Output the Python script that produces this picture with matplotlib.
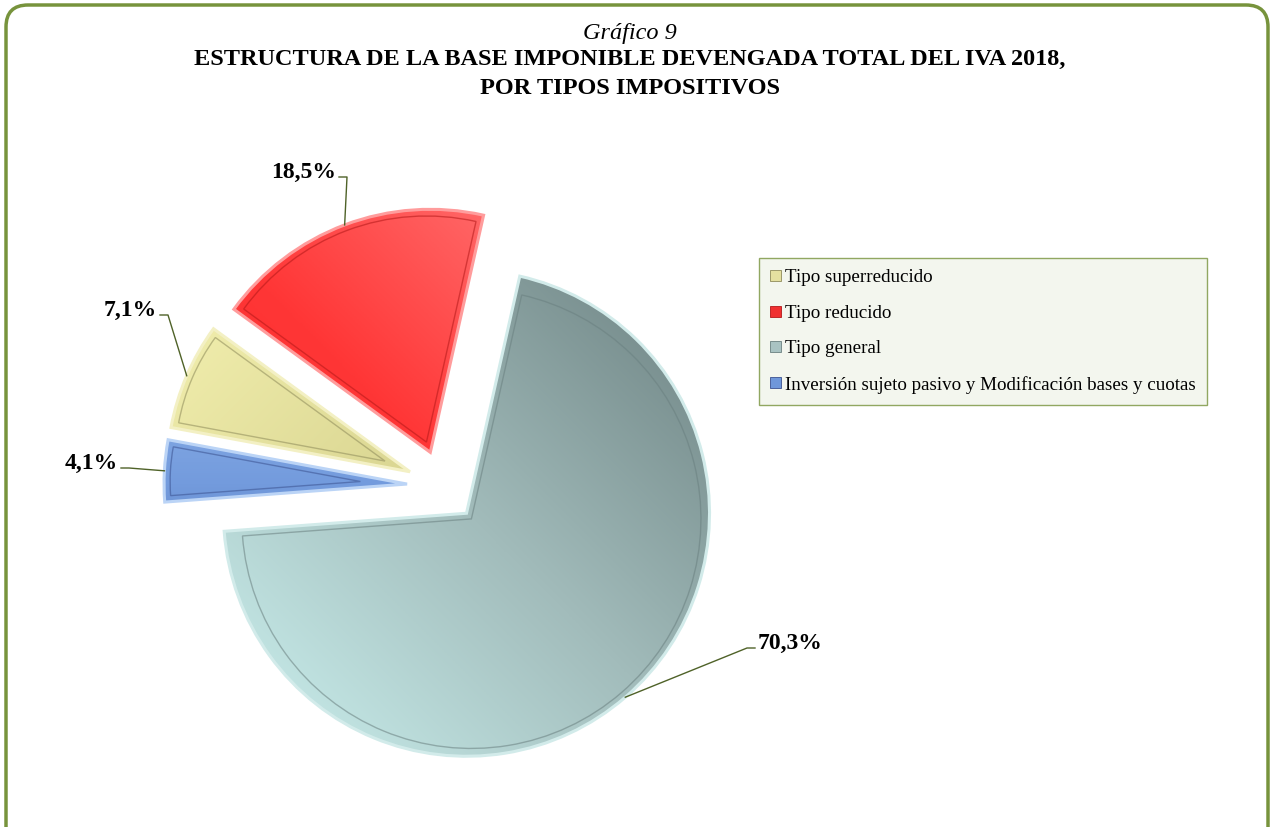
import numpy as np
import matplotlib
matplotlib.use("Agg")
import matplotlib.pyplot as plt
from matplotlib.patches import Wedge, Patch, FancyBboxPatch
from matplotlib.colors import LinearSegmentedColormap

# datos del grafico
categories = ["Tipo superreducido", "Tipo reducido", "Tipo general",
              "Inversión sujeto pasivo y Modificación bases y cuotas"]
shares = [7.1, 18.5, 70.3, 4.1]

# estilo de cada porcion: degradado, borde claro, linea interior
grad_colors = [["#F7F4B4", "#DAD692", "#A3A06B"],
               ["#FF8585", "#FF3636", "#F22626"],
               ["#6C8181", "#A2BCBB", "#CCF2F0"],
               ["#A9C8F3", "#739BDD", "#3F5C9C"]]
grad_dirs = [(1, -1), (-1, -1), (-1, -1), (0, -1)]
rim_colors = ["#F3F0C4", "#FF9C9C", "#D2EBEA", "#BBD4F6"]
inner_colors = ["#8E8B5A", "#B31818", "#6A8080", "#3B5290"]
legend_colors = ["#E4E0A0", "#F03030", "#A9C3C2", "#6F97DA"]

# posiciones (pixeles, y hacia arriba) de las etiquetas
label_pos = [(157, 517), (336, 655), (758, 184), (118, 364)]
label_ha = ["right", "right", "left", "right"]

W, H = 1274, 827
fig = plt.figure(figsize=(12.74, 8.27), dpi=100)
ax = fig.add_axes([0, 0, 1, 1])
serif = "Liberation Serif"

center = (443, 341)
radius = 243
wedges, _ = ax.pie(shares, startangle=169.5, counterclock=False,
                   center=center, radius=radius, explode=[36] * 4,
                   wedgeprops=dict(linewidth=0))

for i, w in enumerate(wedges):
    cx, cy = w.center
    r = w.r
    # degradado recortado a la porcion
    n = 300
    xs = np.linspace(cx - r, cx + r, n)
    ys = np.linspace(cy - r, cy + r, n)
    X, Y = np.meshgrid(xs, ys)
    d = np.array(grad_dirs[i], dtype=float)
    d = d / np.linalg.norm(d)
    t = (X - cx) * d[0] + (Y - cy) * d[1]
    t = (t - t.min()) / (t.max() - t.min())
    cmap = LinearSegmentedColormap.from_list("g%d" % i, grad_colors[i])
    im = ax.imshow(t, extent=[cx - r, cx + r, cy - r, cy + r], origin="lower",
                   cmap=cmap, zorder=2, interpolation="bilinear")
    im.set_clip_path(w)

    # borde claro exterior
    ax.add_patch(Wedge((cx, cy), r, w.theta1, w.theta2, facecolor="none",
                       edgecolor=rim_colors[i], linewidth=2.2, zorder=3))
    # linea interior (efecto bisel)
    inset = 6
    half = np.radians((w.theta2 - w.theta1) / 2)
    mid = np.radians((w.theta1 + w.theta2) / 2)
    shift = inset / np.sin(half)
    icx = cx + shift * np.cos(mid)
    icy = cy + shift * np.sin(mid)
    ax.add_patch(Wedge((icx, icy), r - shift - inset, w.theta1, w.theta2,
                       facecolor="none", edgecolor=inner_colors[i],
                       linewidth=1.0, alpha=0.55, zorder=3))

    # etiqueta y linea guia
    lx, ly = label_pos[i]
    txt = ("%.1f%%" % shares[i]).replace(".", ",")
    ax.text(lx, ly, txt, ha=label_ha[i], va="center", fontsize=17,
            fontweight="bold", family=serif, zorder=5)
    side = 1 if label_ha[i] == "right" else -1
    sx = lx + side * 3
    sy = ly - 5
    kx = sx + side * 8
    ex = cx + r * np.cos(mid)
    ey = cy + r * np.sin(mid)
    ax.plot([sx, kx, ex], [sy, sy, ey], color="#4F6228", linewidth=1.0, zorder=4)

# titulo
ax.text(630, 788, "Gráfico 9", ha="center", va="baseline", fontsize=17.5,
        style="italic", family=serif)
ax.text(630, 762, "ESTRUCTURA DE LA BASE IMPONIBLE DEVENGADA TOTAL DEL IVA 2018,",
        ha="center", va="baseline", fontsize=17.5, fontweight="bold", family=serif)
ax.text(630, 733, "POR TIPOS IMPOSITIVOS", ha="center", va="baseline",
        fontsize=17.5, fontweight="bold", family=serif)

# leyenda
handles = [Patch(facecolor=legend_colors[i], edgecolor=inner_colors[i], linewidth=0.6)
           for i in range(len(categories))]
leg = ax.legend(handles, categories, loc="upper left",
                bbox_to_anchor=(759 / W, 1 - 258 / H), bbox_transform=fig.transFigure,
                borderaxespad=0, frameon=True, fancybox=False,
                prop=dict(family=serif, size=13.7), handlelength=0.55, handleheight=0.5,
                handletextpad=0.2, labelspacing=0.97, borderpad=0.6)
leg.get_frame().set_facecolor("#F1F4EA")
leg.get_frame().set_edgecolor("#77933C")
leg.get_frame().set_linewidth(1.0)

# marco redondeado
ax.add_patch(FancyBboxPatch((6, -30), 1262, 852, boxstyle="round,pad=0,rounding_size=22",
                            facecolor="none", edgecolor="#77933C", linewidth=2.5, zorder=6))

ax.set_xlim(0, W)
ax.set_ylim(0, H)
ax.set_aspect("equal")
ax.axis("off")

plt.savefig("out.png", dpi=100)
